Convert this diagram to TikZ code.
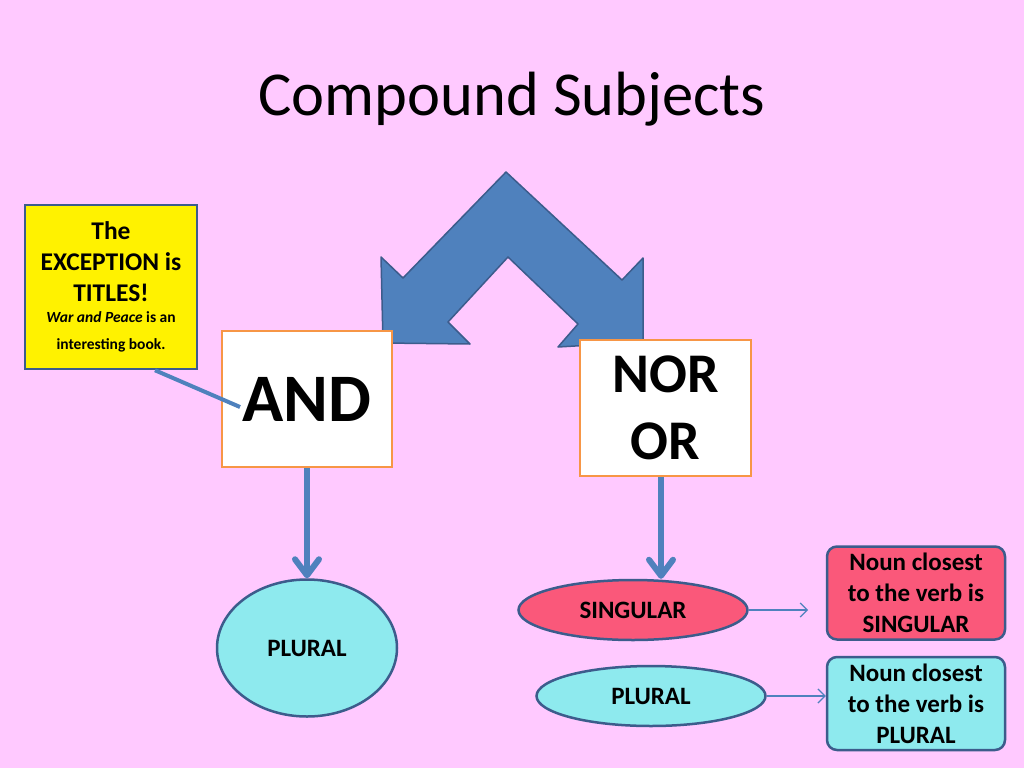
\documentclass[tikz,border=0pt]{standalone}
\usepackage{fontspec}
\setmainfont{Carlito}
\usetikzlibrary{arrows.meta,shapes.geometric}
\definecolor{slidebg}{RGB}{255,201,255}
\definecolor{arrowblue}{RGB}{79,129,189}
\definecolor{edgeblue}{RGB}{60,92,140}
\definecolor{boxorange}{RGB}{247,150,70}
\definecolor{singred}{RGB}{250,88,122}
\definecolor{plurcyan}{RGB}{142,234,238}

\begin{document}
\begin{tikzpicture}[x=1pt, y=-1pt, every node/.style={font=\bfseries},
  conj/.style={draw=boxorange, line width=2.5pt, fill=white, align=center, minimum width=170pt, minimum height=136pt},
  result/.style={ellipse, draw=edgeblue, line width=2.5pt, font=\bfseries\fontsize{25}{30}\selectfont},
  rulebox/.style={draw=edgeblue, line width=2.5pt, rounded corners=10pt, align=center, minimum width=178pt, minimum height=93pt, font=\bfseries\fontsize{25}{31}\selectfont},
  bigarrow/.style={arrowblue, line width=6pt, -{Straight Barb[length=16pt,width=24pt,round]}},
  thinarrow/.style={arrowblue, line width=1.2pt, -{Straight Barb[length=7pt,width=14pt]}}]
\fill[slidebg] (0,0) rectangle (1024,768);
\useasboundingbox (0,0) rectangle (1024,768);
\node[font=\fontsize{62.5}{70}\selectfont] (title) at (512,99) {Compound Subjects};
% split arrow
\draw[fill=arrowblue, draw=edgeblue, line width=1.5pt, line join=round] (506,172) -- (622,280) -- (643,258) -- (643,342) -- (558,347) -- (578,324) -- (508,257) -- (448,322) -- (470,344) -- (383,343) -- (381,257) -- (403,278) -- cycle;
\node[conj, font=\bfseries\fontsize{68}{70}\selectfont] (and) at (307,399) {AND};
\node[conj, minimum width=171pt, font=\bfseries\fontsize{56}{67}\selectfont] (nor) at (665.5,408) {NOR\\OR};
\node[draw=edgeblue, line width=2.5pt, fill=yellow, align=center, minimum width=172pt, minimum height=164pt, font=\bfseries\fontsize{25.5}{31}\selectfont] (exc) at (111,287) {The\\EXCEPTION is\\TITLES!\\[-10pt]{\fontsize{15.5}{27}\selectfont\textit{War and Peace} is an}\\[-4pt]{\fontsize{15.5}{27}\selectfont interesting book.}};
\node[result, fill=plurcyan, minimum width=180pt, minimum height=137pt] (plur) at (307,648) {PLURAL};
\node[result, fill=singred, minimum width=229pt, minimum height=60pt] (sing) at (633,610) {SINGULAR};
\node[result, fill=plurcyan, minimum width=229pt, minimum height=60pt] (plurb) at (651,696) {PLURAL};
\node[rulebox, fill=singred] (nsing) at (916,593) {Noun closest\\to the verb is\\SINGULAR};
\node[rulebox, fill=plurcyan] (nplur) at (916,703.5) {Noun closest\\to the verb is\\PLURAL};
\coordinate (andpt) at (240,407); \coordinate (singend) at (808,610);
\draw[arrowblue, line width=4pt] ([xshift=44pt]exc.south) -- (andpt);
\draw[bigarrow] (and.south) -- (plur.north); \draw[bigarrow] ([xshift=-4.5pt]nor.south) -- ([xshift=-4.5pt]nor.south |- sing.north);
\draw[thinarrow] (sing.east) -- (singend); \draw[thinarrow] (plurb.east) -- (plurb.east -| nplur.west);
\end{tikzpicture}
\end{document}
